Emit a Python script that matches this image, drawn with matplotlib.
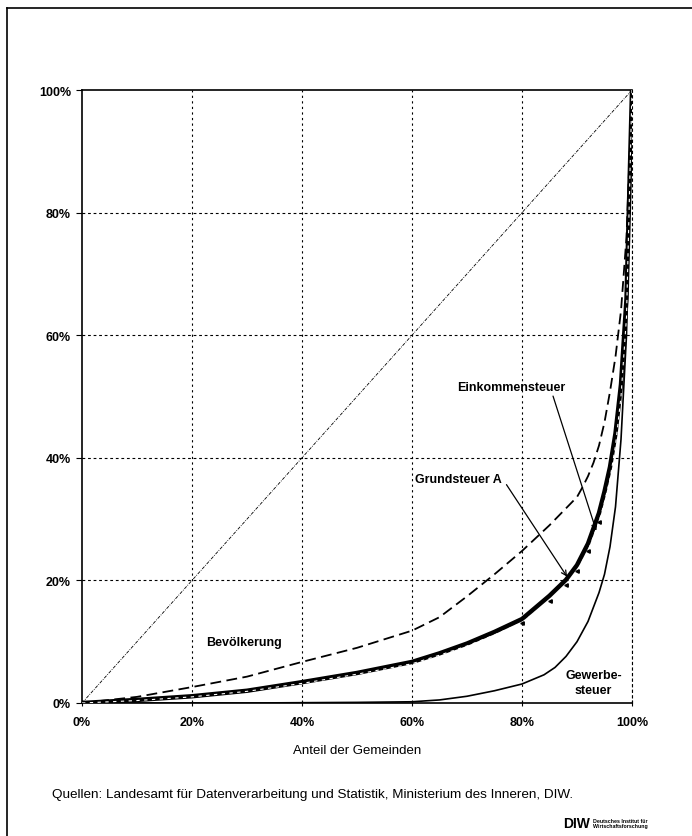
"""Lorenzkurven: Verteilung von Bevoelkerung und Steuern auf die Gemeinden"""
import matplotlib
matplotlib.use("Agg")
import matplotlib.pyplot as plt
from matplotlib.lines import Line2D

plt.rcParams["font.family"] = ["Liberation Sans", "DejaVu Sans"]

# Anteil der Gemeinden (x) und kumulierte Anteile (y), in %
diag_x = [0, 100]
diag_y = [0, 100]

bev_x = [0, 10, 20, 30, 40, 50, 60, 65, 70, 75, 80, 85, 90, 91, 92, 93, 94, 95, 96, 97, 98, 99, 100]
bev_y = [0, 1.0, 2.6, 4.3, 6.7, 9.0, 11.8, 14.0, 17.4, 21.0, 24.8, 29.0, 33.6, 35.2, 37.0, 39.2,
         42.0, 45.8, 50.8, 56.5, 64, 76, 100]

ek_x = [0, 10, 20, 30, 40, 50, 60, 65, 70, 75, 80, 85, 88, 90, 92, 94, 95, 96, 97, 98, 99, 100]
ek_y = [0, 0.5, 1.1, 2.0, 3.4, 4.9, 6.7, 8.1, 9.7, 11.6, 13.7, 17.5, 20.1, 22.5, 26, 31, 34.5,
        38.5, 44, 52, 66, 100]

gr_x = [0, 10, 20, 30, 40, 50, 60, 65, 70, 75, 80, 85, 88, 90, 92, 94, 95, 96, 97, 98, 99, 100]
gr_y = [0, 0.4, 1.0, 1.9, 3.2, 4.7, 6.4, 7.8, 9.3, 11.1, 13.1, 16.7, 19.2, 21.5, 24.8, 29.5, 32.8,
        36.5, 42, 50, 63, 100]

gew_x = [0, 10, 20, 30, 40, 50, 55, 60, 65, 70, 75, 80, 84, 86, 88, 90, 92, 94, 95, 96, 97, 98, 99, 100]
gew_y = [0, 0, 0, 0, 0.05, 0.1, 0.15, 0.2, 0.5, 1.1, 2.0, 3.1, 4.6, 5.8, 7.6, 10, 13.3, 18, 21,
         25.5, 32, 43, 60, 100]

ticks = [0, 20, 40, 60, 80, 100]
tick_labels = ["0%", "20%", "40%", "60%", "80%", "100%"]

W, H = 692, 837
fig = plt.figure(figsize=(W / 100, H / 100), dpi=100)
ax = fig.add_axes([82 / W, 1 - 704 / H, 550 / W, 613 / H])

# Gitter
for t in ticks[1:]:
    ax.axvline(t, color="black", lw=0.8, ls=(0, (2, 3)), zorder=1)
for t in ticks[1:-1]:
    ax.axhline(t, color="black", lw=0.8, ls=(0, (2.5, 2.5)), zorder=1)

ax.plot(diag_x, diag_y, color="black", lw=0.6, ls=(0, (4, 1.5, 1, 1.5)), zorder=2)
ax.plot(bev_x, bev_y, color="black", lw=1.3, ls=(0, (6, 3)), zorder=3)
ax.plot(gew_x, gew_y, color="black", lw=1.2, zorder=3)
ax.plot(ek_x, ek_y, color="black", lw=3.2, zorder=4)
ax.plot(gr_x, gr_y, color="white", lw=0.8, ls=(0, (3, 4)), zorder=5)
ax.plot(gr_x, gr_y, color="black", lw=0, marker="<", markersize=2.5,
        markevery=[10, 11, 12, 13, 14, 15], zorder=6)

ax.set_xlim(0, 100)
ax.set_ylim(0, 100)
ax.set_xticks(ticks)
ax.set_yticks(ticks)
ax.set_xticklabels(tick_labels, fontsize=9, fontweight="bold")
ax.set_yticklabels(tick_labels, fontsize=9, fontweight="bold")
ax.tick_params(axis="x", direction="inout", length=5, width=0.8, pad=7)
ax.tick_params(axis="y", direction="out", length=4, width=0.8, pad=4)
for side in ["left", "bottom", "top"]:
    ax.spines[side].set_linewidth(1.2)
ax.spines["right"].set_linestyle((0, (2, 3)))
ax.spines["right"].set_linewidth(0.8)

# Beschriftungen
ax.annotate("Einkommensteuer", xy=(93.5, 28.1), xytext=(78.0, 51.5),
            fontsize=9, fontweight="bold", ha="center", va="center",
            arrowprops=dict(arrowstyle="->", color="black", lw=0.9,
                            shrinkA=0, shrinkB=0, relpos=(0.88, 0)))
ax.annotate("Grundsteuer A", xy=(88.2, 20.6), xytext=(68.5, 36.6),
            fontsize=9, fontweight="bold", ha="center", va="center",
            arrowprops=dict(arrowstyle="->", color="black", lw=0.9,
                            shrinkA=0, shrinkB=0, relpos=(1.05, 0)))
ax.text(29.5, 10, "Bevölkerung", fontsize=9, fontweight="bold", ha="center", va="center")
ax.text(93.0, 3.4, "Gewerbe-\nsteuer", fontsize=9, fontweight="bold", ha="center", va="center",
        linespacing=1.3)

fig.text(357 / W, 1 - 751 / H, "Anteil der Gemeinden", fontsize=9.5, ha="center", va="center")
fig.text(52 / W, 1 - 795 / H,
         "Quellen: Landesamt für Datenverarbeitung und Statistik, Ministerium des Inneren, DIW.",
         fontsize=9.7, ha="left", va="center")

# DIW Logo
fig.text(563 / W, 1 - 824 / H, "DIW", fontsize=10, fontweight="bold", ha="left", va="center")
fig.text(593 / W, 1 - 824 / H, "Deutsches Institut für\nWirtschaftsforschung", fontsize=3.8,
         fontweight="bold", ha="left", va="center", linespacing=1.1)

# Rahmen
fig.add_artist(Line2D([7 / W, 7 / W], [0, 1 - 9 / H], color="black", lw=1.2,
                      transform=fig.transFigure))
fig.add_artist(Line2D([7 / W, 1], [1 - 9 / H, 1 - 9 / H], color="black", lw=1.2,
                      transform=fig.transFigure))

plt.savefig("out.png", dpi=100)
